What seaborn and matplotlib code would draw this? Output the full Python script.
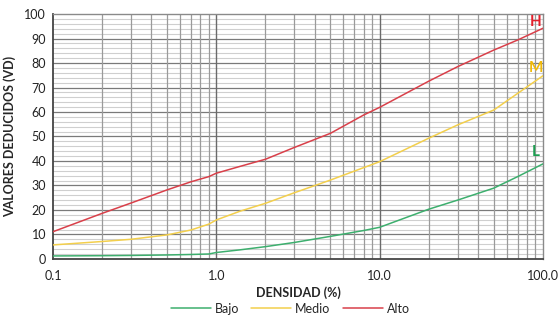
import matplotlib
matplotlib.use("Agg")
import matplotlib.pyplot as plt
import seaborn as sns
import pandas as pd
import numpy as np
from matplotlib.ticker import FixedLocator, FixedFormatter, NullFormatter

# Data
densidad = [0.1, 0.2, 0.3, 0.5, 0.7, 0.9, 1.0, 1.4, 2.0, 3.0, 5.0, 8.0, 10.0, 20.0, 30.0, 50.0, 70.0, 100.0]
bajo  = [1.2, 1.3, 1.4, 1.6, 1.8, 2.0, 2.6, 3.7, 5.0, 6.7, 9.2, 11.6, 12.9, 20.3, 24.0, 28.9, 33.6, 38.8]
medio = [5.7, 7.1, 8.0, 9.8, 11.8, 14.2, 15.9, 19.5, 22.7, 27.0, 32.2, 37.3, 39.7, 49.3, 54.7, 60.8, 67.6, 74.8]
alto  = [11.1, 18.6, 22.8, 28.2, 31.5, 33.6, 35.0, 37.8, 40.7, 45.5, 51.3, 58.8, 61.9, 72.6, 78.5, 85.3, 89.4, 94.2]
series_names = ["Bajo", "Medio", "Alto"]
colors = ["#3daf6e", "#f3cf4c", "#d9404a"]
end_labels = ["L", "M", "H"]
end_colors = ["#1b9e50", "#f0b90a", "#e3202b"]
x_ticks = [0.1, 1.0, 10.0, 100.0]
x_ticklabels = ["0.1", "1.0", "10.0", "100.0"]
y_ticks = list(range(0, 101, 10))

df = pd.DataFrame({
    "x": densidad * 3,
    "y": bajo + medio + alto,
    "serie": [s for s in series_names for _ in densidad],
})

sns.set_style("white")
plt.rcParams["font.family"] = ["Lato", "DejaVu Sans"]

fig = plt.figure(figsize=(5.58, 3.2), dpi=100)
ax = fig.add_axes([0.095, 0.191, 0.878, 0.765])

# grid
minor_x = [m * 10.0 ** e for e in (-1, 0, 1) for m in range(2, 10)]
for v in np.arange(2, 100, 2):
    if v % 10:
        ax.axhline(v, color="#cfcfcf", lw=0.8, zorder=0)
for v in range(10, 100, 10):
    ax.axhline(v, color="#7a7a7a", lw=0.9, zorder=0)
for v in minor_x:
    ax.axvline(v, color="#9a9a9a", lw=0.9, zorder=0)
for v in [1.0, 10.0]:
    ax.axvline(v, color="#6a6a6a", lw=1.0, zorder=0)

sns.lineplot(data=df, x="x", y="y", hue="serie", hue_order=series_names,
             palette=colors, ax=ax, lw=1.1, zorder=3, estimator=None, sort=True)

ax.set_xscale("log")
ax.set_xlim(0.1, 100)
ax.set_ylim(0, 100)
ax.xaxis.set_major_locator(FixedLocator(x_ticks))
ax.xaxis.set_major_formatter(FixedFormatter(x_ticklabels))
ax.xaxis.set_minor_formatter(NullFormatter())
ax.set_yticks(y_ticks)
ax.tick_params(axis="both", labelsize=9, colors="#222222", length=0, pad=5)
ax.tick_params(axis="x", pad=8)
for s in ["top", "right"]:
    ax.spines[s].set_color("#8a8a8a")
    ax.spines[s].set_linewidth(1.0)
for s in ["left", "bottom"]:
    ax.spines[s].set_color("#444444")
    ax.spines[s].set_linewidth(1.3)

ax.set_xlabel("DENSIDAD (%)", fontsize=9, fontweight="bold", labelpad=3)
ax.set_ylabel("VALORES DEDUCIDOS (VD)", fontsize=9, fontweight="bold", labelpad=6)

label_y = [41, 75, 94]
for lab, c, yy in zip(end_labels, end_colors, label_y):
    ax.text(90, yy, lab, color=c, fontsize=11, fontweight="bold",
            ha="center", va="bottom", zorder=4)

handles, labels = ax.get_legend_handles_labels()
ax.get_legend().remove()
fig.legend(handles, labels, loc="center", bbox_to_anchor=(0.52, 0.035),
           ncol=3, frameon=False, fontsize=9, handlelength=3.2, columnspacing=1.0,
           handletextpad=0.3)

fig.savefig("out.png", dpi=100)
